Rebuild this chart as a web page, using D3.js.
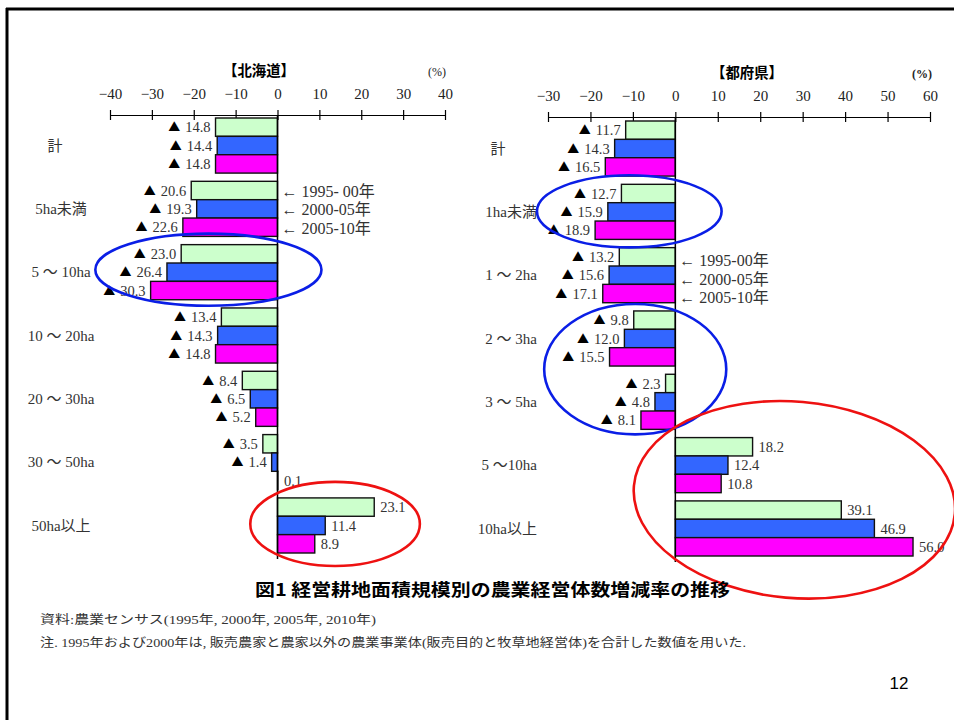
<!DOCTYPE html>
<html lang="ja">
<head>
<meta charset="utf-8">
<script src="https://cdn.jsdelivr.net/npm/d3@7"></script>
<style>
  html, body { margin: 0; padding: 0; background: #fff; }
  svg { display: block; }
  .serif { font-family: "Liberation Serif", "DejaVu Serif", "Noto Sans CJK JP", serif; }
  .gothic { font-family: "Noto Sans CJK JP", "Noto Sans", sans-serif; }
</style>
</head>
<body>
<svg id="chart" width="954" height="720"></svg>
<script>
// ---- data: rate of change (%) in the number of farm management entities ----
const seriesKeys = ["1995-00", "2000-05", "2005-10"];
const seriesColors = ["#ccffcc", "#3366ff", "#ff00ff"];

// Hokkaido
const hokkaidoCategories = ["計", "5ha未満", "5 〜 10ha", "10 〜 20ha", "20 〜 30ha", "30 〜 50ha", "50ha以上"];
const hokkaido1995 = [-14.8, -20.6, -23.0, -13.4, -8.4, -3.5, 23.1];
const hokkaido2000 = [-14.4, -19.3, -26.4, -14.3, -6.5, -1.4, 11.4];
const hokkaido2005 = [-14.8, -22.6, -30.3, -14.8, -5.2, 0.1, 8.9];
const hokkaidoTicks = [-40, -30, -20, -10, 0, 10, 20, 30, 40];
const hokkaidoLegend = ["← 1995- 00年", "← 2000-05年", "← 2005-10年"];

// Other prefectures
const tofukenCategories = ["計", "1ha未満", "1 〜 2ha", "2 〜 3ha", "3 〜 5ha", "5 〜10ha", "10ha以上"];
const tofuken1995 = [-11.7, -12.7, -13.2, -9.8, -2.3, 18.2, 39.1];
const tofuken2000 = [-14.3, -15.9, -15.6, -12.0, -4.8, 12.4, 46.9];
const tofuken2005 = [-16.5, -18.9, -17.1, -15.5, -8.1, 10.8, 56.0];
const tofukenTicks = [-30, -20, -10, 0, 10, 20, 30, 40, 50, 60];
const tofukenLegend = ["← 1995-00年", "← 2000-05年", "← 2005-10年"];

const svg = d3.select("#chart");

// page frame
svg.append("line").attr("x1", 7).attr("x2", 7).attr("y1", 8).attr("y2", 720)
  .attr("stroke", "#000").attr("stroke-width", 3);
svg.append("line").attr("x1", 6).attr("x2", 954).attr("y1", 9).attr("y2", 9)
  .attr("stroke", "#000").attr("stroke-width", 3);

function drawPanel(opt) {
  const g = svg.append("g");
  const x = d3.scaleLinear().domain(opt.domain).range(opt.xRange);
  const y = d3.scaleBand().domain(opt.categories).range(opt.yRange)
    .paddingInner(0.13).paddingOuter(0);
  const ySub = d3.scaleBand().domain(seriesKeys).range([0, y.bandwidth()]);

  const rows = opt.categories.map((c, i) => ({
    cat: c,
    vals: seriesKeys.map((k, j) => ({ key: k, j, v: opt.series[j][i] }))
  }));

  // title and unit
  g.append("text").attr("class", "gothic")
    .attr("x", opt.titleX).attr("y", opt.axisY - 39)
    .attr("text-anchor", "middle").attr("font-size", 15).attr("font-weight", "bold")
    .attr("textLength", 72).attr("lengthAdjust", "spacingAndGlyphs")
    .text(opt.title);
  g.append("text").attr("class", "serif")
    .attr("x", x(opt.domain[1]) - 8).attr("y", opt.axisY - 39)
    .attr("text-anchor", "middle").attr("font-size", 12)
    .attr("font-weight", opt.unitBold ? "bold" : "normal").attr("fill", "#222")
    .text("(%)");

  // value axis
  const axis = d3.axisTop(x).tickValues(opt.ticks).tickSize(0).tickPadding(16)
    .tickFormat(d3.format("d"));
  const ag = g.append("g").attr("transform", `translate(0,${opt.axisY})`).call(axis);
  ag.select(".domain").attr("stroke", "#000").attr("stroke-width", 1.2);
  ag.selectAll(".tick text").attr("class", "serif").attr("font-size", 15)
    .attr("fill", "#222").attr("font-family", null);
  ag.selectAll(".tick").append("line").attr("y1", -5).attr("y2", 5)
    .attr("stroke", "#000").attr("stroke-width", 1.2);

  // bars
  const grp = g.selectAll(".grp").data(rows).join("g")
    .attr("transform", d => `translate(0,${y(d.cat)})`);
  grp.selectAll("rect").data(d => d.vals).join("rect")
    .attr("x", d => x(Math.min(0, d.v)))
    .attr("y", d => ySub(d.key))
    .attr("width", d => Math.abs(x(d.v) - x(0)))
    .attr("height", ySub.bandwidth())
    .attr("fill", d => seriesColors[d.j])
    .attr("stroke", "#111").attr("stroke-width", 1.4);

  // value labels: decreases are marked with a triangle
  const vt = grp.selectAll("text.val").data(d => d.vals).join("text")
    .attr("class", "serif val")
    .attr("x", d => d.v < 0 ? x(d.v) - 5 : x(d.v) + 6)
    .attr("y", d => ySub(d.key) + ySub.bandwidth() / 2)
    .attr("dy", "0.35em")
    .attr("text-anchor", d => d.v < 0 ? "end" : "start")
    .attr("font-size", 14.5).attr("fill", "#333");
  vt.filter(d => d.v < 0).append("tspan")
    .attr("font-family", "Noto Sans CJK JP, DejaVu Sans, sans-serif")
    .attr("font-size", 12).attr("fill", "#000").text("▲");
  vt.append("tspan").attr("dx", d => d.v < 0 ? 5 : 0)
    .text(d => Math.abs(d.v).toFixed(1));

  // zero line
  g.append("line").attr("x1", x(0)).attr("x2", x(0))
    .attr("y1", opt.axisY).attr("y2", opt.yRange[1] + 6)
    .attr("stroke", "#000").attr("stroke-width", 1.5);

  // category labels
  g.selectAll("text.cat").data(opt.categories).join("text")
    .attr("class", "serif cat")
    .attr("x", c => c === "計" ? opt.totalX : opt.catX)
    .attr("y", c => y(c) + y.bandwidth() / 2)
    .attr("dy", "0.35em")
    .attr("text-anchor", c => c === "計" ? "middle" : opt.catAnchor)
    .attr("font-size", 15).attr("fill", "#333")
    .text(c => c);

  // series legend with arrows next to one group
  const lc = opt.categories[opt.legendIndex];
  g.selectAll("text.leg").data(opt.legend).join("text")
    .attr("class", "serif leg")
    .attr("x", x(0) + 4)
    .attr("y", (t, j) => y(lc) + ySub(seriesKeys[j]) + ySub.bandwidth() / 2 + opt.legendShift)
    .attr("dy", "0.35em")
    .attr("font-size", 16).attr("fill", "#333")
    .text(t => t);

  return { x, y };
}

const L = drawPanel({
  title: "【北海道】", titleX: 259, unitBold: false,
  domain: [-40, 40], xRange: [110, 445], ticks: hokkaidoTicks,
  categories: hokkaidoCategories,
  series: [hokkaido1995, hokkaido2000, hokkaido2005],
  yRange: [118, 553], axisY: 115,
  catX: 61, catAnchor: "middle", totalX: 55,
  legend: hokkaidoLegend, legendIndex: 1, legendShift: 1
});

const R = drawPanel({
  title: "【都府県】", titleX: 747, unitBold: true,
  domain: [-30, 60], xRange: [548, 930], ticks: tofukenTicks,
  categories: tofukenCategories,
  series: [tofuken1995, tofuken2000, tofuken2005],
  yRange: [121, 556], axisY: 117,
  catX: 537, catAnchor: "end", totalX: 498,
  legend: tofukenLegend, legendIndex: 2, legendShift: 4
});

// hand-drawn highlight rings around groups of bars
function ring(panel, fromCat, toCat, x0, x1, padTop, padBot, color, rot) {
  const top = panel.y(fromCat) - padTop;
  const bot = panel.y(toCat) + panel.y.bandwidth() + padBot;
  const cx = (panel.x(x0) + panel.x(x1)) / 2, cy = (top + bot) / 2;
  svg.append("ellipse")
    .attr("cx", cx).attr("cy", cy)
    .attr("rx", Math.abs(panel.x(x1) - panel.x(x0)) / 2).attr("ry", (bot - top) / 2)
    .attr("transform", `rotate(${rot},${cx},${cy})`)
    .attr("fill", "none").attr("stroke", color).attr("stroke-width", 2.6);
}
ring(L, "5 〜 10ha", "5 〜 10ha", -43.5, 10.5, 11, 6, "#0a1ee6", 0);
ring(L, "50ha以上", "50ha以上", -6.5, 34, 16, 13, "#ee1111", 0);
ring(R, "1ha未満", "1ha未満", -32.6, 10.9, 9, 8, "#0a1ee6", 0);
ring(R, "2 〜 3ha", "3 〜 5ha", -30.9, 12.0, 7, 5, "#0a1ee6", 0);
ring(R, "5 〜10ha", "10ha以上", -9.9, 66, 36, 42, "#ee1111", 5);

// caption and notes
svg.append("text").attr("class", "gothic")
  .attr("x", 255).attr("y", 596).attr("font-size", 17).attr("font-weight", "bold")
  .attr("textLength", 475).attr("lengthAdjust", "spacingAndGlyphs")
  .text("図1  経営耕地面積規模別の農業経営体数増減率の推移");
svg.append("text").attr("class", "serif")
  .attr("x", 40).attr("y", 624).attr("font-size", 12).attr("fill", "#333")
  .attr("textLength", 336).attr("lengthAdjust", "spacingAndGlyphs")
  .text("資料:農業センサス(1995年, 2000年, 2005年, 2010年)");
svg.append("text").attr("class", "serif")
  .attr("x", 40).attr("y", 647).attr("font-size", 12).attr("fill", "#333")
  .attr("textLength", 706).attr("lengthAdjust", "spacingAndGlyphs")
  .text("注. 1995年および2000年は, 販売農家と農家以外の農業事業体(販売目的と牧草地経営体)を合計した数値を用いた.");
svg.append("text")
  .attr("x", 899).attr("y", 689).attr("text-anchor", "middle")
  .attr("font-family", "Liberation Sans, Arial, sans-serif").attr("font-size", 17)
  .text("12");
</script>
</body>
</html>
